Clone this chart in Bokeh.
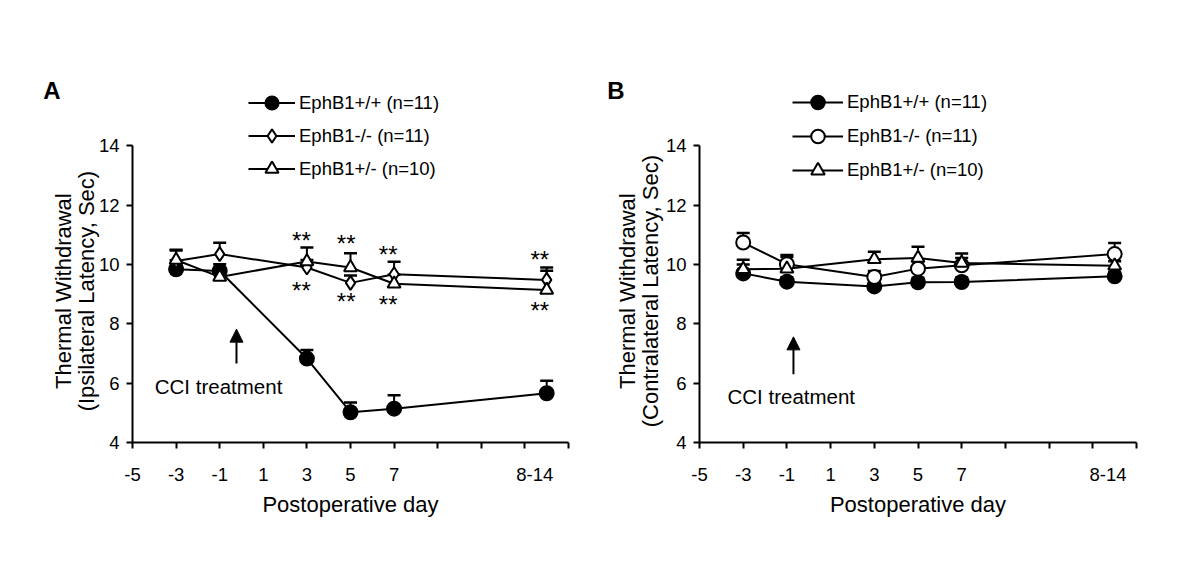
from bokeh.plotting import figure
from bokeh.layouts import row
from bokeh.models import (Range1d, FixedTicker, Legend, LegendItem, Label, Arrow,
                          NormalHead, LinearAxis)
from bokeh.core.properties import value
from bokeh.embed import file_html
from bokeh.resources import INLINE

FONT = "Liberation Sans"

# ---------------- data ----------------
days = [-3, -1, 3, 5, 7, 14]
x_ticks_labelled = [-5, -3, -1, 1, 3, 5, 7]
x_tick_marks = [-5, -3, -1, 1, 3, 5, 7, 9, 11, 13, 15]
late_label = "8-14"
y_ticks = [4, 6, 8, 10, 12, 14]

series_names = ["EphB1+/+ (n=11)", "EphB1-/- (n=11)", "EphB1+/- (n=10)"]

# Panel A (ipsilateral)
a_wt = [9.84, 9.78, 6.83, 5.02, 5.14, 5.66]
a_wt_err = [0.30, 0.12, 0.29, 0.33, 0.45, 0.42]
a_ko = [10.12, 10.35, 9.90, 9.38, 9.67, 9.48]
a_ko_err = [0.35, 0.38, 0.25, 0.25, 0.42, 0.42]
a_het = [10.15, 9.58, 10.10, 9.90, 9.35, 9.14]
a_het_err = [0.35, 0.43, 0.47, 0.48, 0.30, 0.65]

# significance marks (panel A)
sig_text = "**"
sig_x = [2.75, 4.8, 6.73, 13.68]
sig_above = [10.97, 10.86, 10.48, 10.33]
sig_below = [9.28, 8.89, 8.80, 8.61]

# Panel B (contralateral)
b_wt = [9.70, 9.42, 9.26, 9.40, 9.41, 9.60]
b_wt_err = [0.30, 0.15, 0.15, 0.15, 0.15, 0.15]
b_ko = [10.74, 10.01, 9.58, 9.86, 9.97, 10.35]
b_ko_err = [0.32, 0.31, 0.20, 0.25, 0.25, 0.37]
b_het = [9.84, 9.86, 10.18, 10.22, 10.05, 9.96]
b_het_err = [0.32, 0.40, 0.25, 0.38, 0.32, 0.15]

Y_TOP = 4 + 370 / 29.67
PAD = "\u00a0" * 11   # keeps the rotated title centred on the 4-14 span


def letter_axis(tick, label, standoff):
    return LinearAxis(ticker=FixedTicker(ticks=[tick]),
                      major_label_overrides={tick: label},
                      axis_line_color=None, major_tick_line_color=None,
                      minor_tick_line_color=None, major_tick_out=0, major_tick_in=0,
                      major_label_standoff=standoff,
                      major_label_text_font=FONT, major_label_text_font_size="24px",
                      major_label_text_font_style="bold",
                      major_label_text_color="black")


def make_panel(letter, ylab, wt, wt_err, ko, ko_err, het, het_err, ko_marker,
               left_border, frame_w, late_x, arrow_x, arrow_y0, arrow_y1,
               cci_x, cci_y, leg_loc, leg_gw, leg_gh, title_standoff, letter_standoff):
    p = figure(output_backend="svg", toolbar_location=None,
               frame_width=frame_w, frame_height=370,
               min_border_left=left_border, min_border_right=20,
               min_border_top=72, min_border_bottom=118,
               x_range=Range1d(-5, 15), y_range=Range1d(4, Y_TOP))
    p.outline_line_color = None
    p.grid.visible = False
    p.background_fill_color = "white"

    for ax in (p.xaxis[0], p.yaxis[0]):
        ax.axis_line_width = 2
        ax.major_tick_line_width = 2
        ax.major_tick_in = 0
        ax.major_label_text_font = FONT
        ax.major_label_text_font_size = "18.5px"
        ax.major_label_text_color = "black"
        ax.axis_label_text_font = FONT
        ax.axis_label_text_font_size = "22px"
        ax.axis_label_text_font_style = "normal"
        ax.axis_label_text_color = "black"

    # x axis: tick marks drawn as minor ticks, labels at the labelled positions
    xl = x_ticks_labelled + [late_x]
    p.xaxis.ticker = FixedTicker(ticks=xl, minor_ticks=x_tick_marks)
    labels = {t: str(t) for t in x_ticks_labelled}
    labels[late_x] = late_label
    p.xaxis.major_label_overrides = labels
    p.xaxis.major_tick_out = 0
    p.xaxis.minor_tick_out = 6
    p.xaxis.minor_tick_in = 0
    p.xaxis.minor_tick_line_width = 2
    p.xaxis.minor_tick_line_color = "black"
    p.xaxis.major_label_standoff = 19
    p.xaxis.axis_label = "Postoperative day"
    p.xaxis.axis_label_standoff = 8

    p.yaxis.ticker = FixedTicker(ticks=y_ticks)
    p.yaxis.bounds = (4, 14)
    p.yaxis.major_tick_out = 6
    p.yaxis.minor_tick_line_color = None
    p.yaxis.major_label_standoff = 7
    p.yaxis.axis_label = "\n".join(line + PAD for line in ylab)
    p.yaxis.axis_label_standoff = title_standoff
    p.yaxis.axis_label_text_line_height = 0.9

    p.add_layout(letter_axis(15.85, letter, letter_standoff), "left")

    styles = [
        (wt, wt_err, "circle", 14, "black"),
        (ko, ko_err, ko_marker, 14, "white"),
        (het, het_err, "triangle", 13, "white"),
    ]
    lines, marks = [], []
    for ys, _, _, _, _ in styles:
        lines.append(p.line(days, ys, line_color="black", line_width=2))
    for ys, err, _, _, _ in styles:
        tops = [y + e for y, e in zip(ys, err)]
        p.segment(days, ys, days, tops, line_color="black", line_width=2)
        p.scatter(days, tops, marker="dash", size=13, line_color="black", line_width=2.5)
    for ys, _, mk, sz, fc in styles:
        marks.append(p.scatter(days, ys, marker=mk, size=sz, fill_color=fc,
                               line_color="black", line_width=2))

    items = [LegendItem(label=n, renderers=[l, m]) for n, l, m in zip(series_names, lines, marks)]
    leg = Legend(items=items, location=leg_loc, glyph_width=leg_gw, glyph_height=leg_gh,
                 spacing=0, label_standoff=4, padding=0, margin=0,
                 border_line_color=None, background_fill_alpha=0,
                 label_text_font=FONT, label_text_font_size="18.5px",
                 label_text_color="black")
    p.add_layout(leg)

    p.add_layout(Arrow(end=NormalHead(size=13, fill_color="black", line_color="black"),
                       x_start=arrow_x, y_start=arrow_y0, x_end=arrow_x, y_end=arrow_y1,
                       line_color="black", line_width=2))
    p.add_layout(Label(x=cci_x, y=cci_y, text="CCI treatment", text_font=FONT,
                       text_font_size="20.5px", text_align="left",
                       text_baseline="alphabetic", text_color="black"))
    return p


pa = make_panel("A", ["Thermal Withdrawal", "(Ipsilateral Latency, Sec)"],
                a_wt, a_wt_err, a_ko, a_ko_err, a_het, a_het_err, "diamond",
                132, 436, 13.45, -0.23, 6.66, 7.82, -3.98, 5.88,
                (116, 257), 47, 33, -3, -12)
pa.text(sig_x, [y - 0.15 for y in sig_above], text=[sig_text] * 4,
        text_font=value(FONT), text_font_size="24px", text_align="center",
        text_baseline="middle", text_color="black")
pa.text(sig_x, [y - 0.15 for y in sig_below], text=[sig_text] * 4,
        text_font=value(FONT), text_font_size="24px", text_align="center",
        text_baseline="middle", text_color="black")

pb = make_panel("B", ["Thermal Withdrawal", "(Contralateral Latency, Sec)"],
                b_wt, b_wt_err, b_ko, b_ko_err, b_het, b_het_err, "circle",
                111, 437, 13.7, -0.7, 6.3, 7.56, -3.72, 5.54,
                (93, 255), 51, 34, 0, -12)

layout = row(pa, pb)
open("out.html", "w").write(file_html(layout, INLINE))
